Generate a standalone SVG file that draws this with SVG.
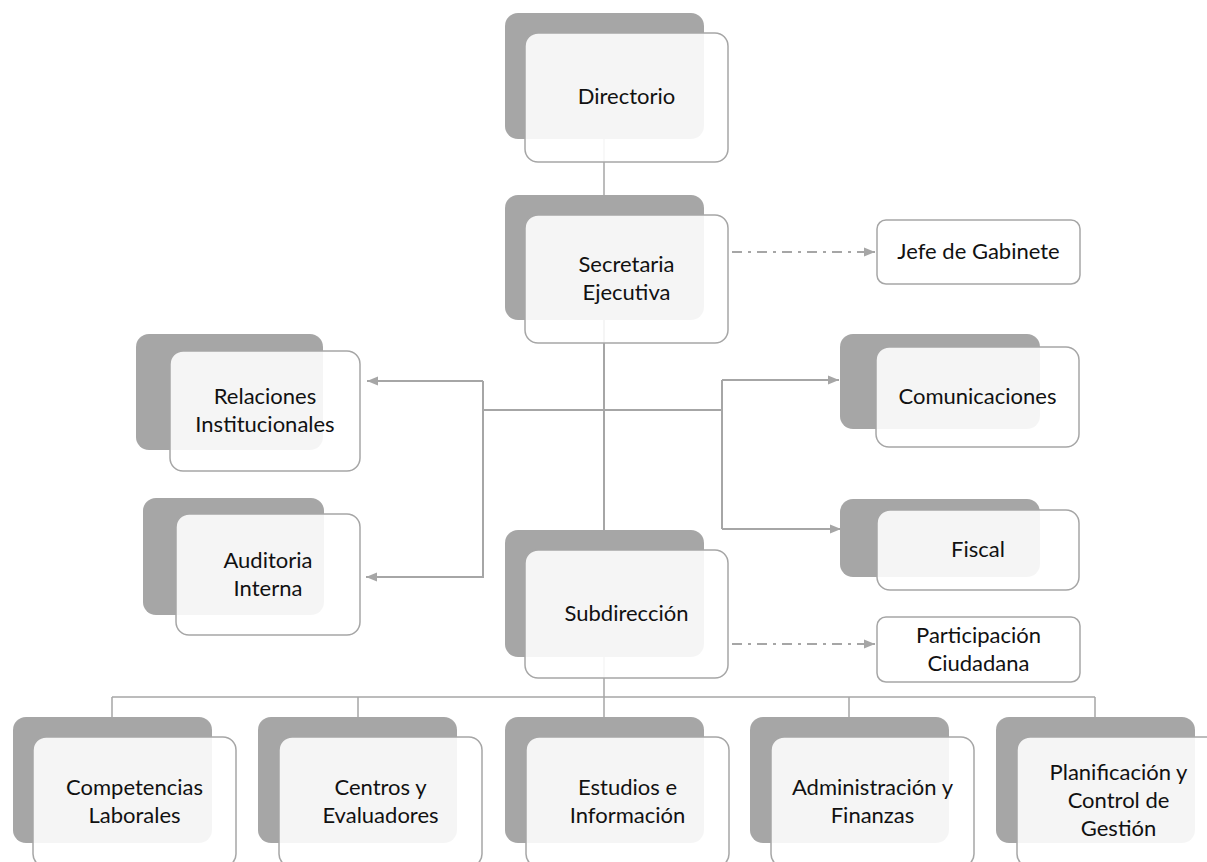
<svg xmlns="http://www.w3.org/2000/svg" width="1207" height="862" viewBox="0 0 1207 862">
  <style>
    .back { fill: #a6a6a6; }
    .card { fill: #ffffff; fill-opacity: 0.89; stroke: #a6a6a6; stroke-width: 1.5; }
    .box { fill: #ffffff; stroke: #a6a6a6; stroke-width: 1.5; }
    .lbl { font-family: Lato, "Open Sans", "Liberation Sans", sans-serif; font-size: 22px; fill: #111111; text-anchor: middle; }
    .ln { stroke: #a6a6a6; stroke-width: 2; fill: none; }
    .thin { stroke-width: 1.5; }
    .dd { stroke-dasharray: 10 6 3 6; }
  </style>
  <defs>
    <marker id="arrow" markerUnits="userSpaceOnUse" markerWidth="12" markerHeight="10" refX="11" refY="5" orient="auto">
      <path d="M0,0.5 L11,5 L0,9.5 z" fill="#a6a6a6"/>
    </marker>
  </defs>

  <!-- connectors -->
  <g id="connectors">
    <path class="ln thin" d="M604,139 V195"/>
    <path class="ln" d="M604,320 V530"/>
    <path class="ln" d="M483,381 H367" marker-end="url(#arrow)"/>
    <path class="ln" d="M483,381 V577 H366" marker-end="url(#arrow)"/>
    <path class="ln" d="M483,410 H722"/>
    <path class="ln" d="M722,380 V529"/>
    <path class="ln" d="M722,380 H839" marker-end="url(#arrow)"/>
    <path class="ln" d="M722,529 H841" marker-end="url(#arrow)"/>
    <path class="ln dd" d="M732,252 H875" marker-end="url(#arrow)"/>
    <path class="ln dd" d="M732,644 H875" marker-end="url(#arrow)"/>
    <path class="ln thin" d="M604,657 V697"/>
    <path class="ln thin" d="M112,697 H1095"/>
    <path class="ln thin" d="M112,697 V717 M358,697 V717 M849,697 V717 M1095,697 V717 M604,697 V717"/>
  </g>

  <!-- top chain -->
  <g id="directorio">
    <rect class="back" x="505" y="13" width="199" height="126" rx="13"/>
    <rect class="card" x="525" y="33" width="203" height="129" rx="13"/>
    <text class="lbl" x="626.5" y="104">Directorio</text>
  </g>
  <g id="secretaria">
    <rect class="back" x="505" y="195" width="199" height="125" rx="13"/>
    <rect class="card" x="525" y="215" width="203" height="128" rx="13"/>
    <text class="lbl" x="626.5" y="272">Secretaria</text>
    <text class="lbl" x="626.5" y="300">Ejecutiva</text>
  </g>
  <g id="jefe-gabinete">
    <rect class="box" x="877" y="220" width="203" height="64" rx="9"/>
    <text class="lbl" x="978.5" y="259">Jefe de Gabinete</text>
  </g>

  <!-- staff units -->
  <g id="relaciones">
    <rect class="back" x="136" y="334" width="187" height="116" rx="13"/>
    <rect class="card" x="170" y="351" width="190" height="120" rx="13"/>
    <text class="lbl" x="265" y="404">Relaciones</text>
    <text class="lbl" x="265" y="432">Institucionales</text>
  </g>
  <g id="auditoria">
    <rect class="back" x="143" y="498" width="181" height="117" rx="13"/>
    <rect class="card" x="176" y="514" width="184" height="121" rx="13"/>
    <text class="lbl" x="268" y="568">Auditoria</text>
    <text class="lbl" x="268" y="596">Interna</text>
  </g>
  <g id="comunicaciones">
    <rect class="back" x="840" y="334" width="200" height="95" rx="13"/>
    <rect class="card" x="876" y="347" width="203" height="100" rx="13"/>
    <text class="lbl" x="977.5" y="404">Comunicaciones</text>
  </g>
  <g id="fiscal">
    <rect class="back" x="840" y="499" width="200" height="78" rx="13"/>
    <rect class="card" x="877" y="510" width="202" height="80" rx="13"/>
    <text class="lbl" x="978" y="557">Fiscal</text>
  </g>

  <!-- second level -->
  <g id="subdireccion">
    <rect class="back" x="505" y="530" width="199" height="127" rx="13"/>
    <rect class="card" x="525" y="550" width="203" height="128" rx="13"/>
    <text class="lbl" x="626.5" y="621">Subdirección</text>
  </g>
  <g id="participacion">
    <rect class="box" x="877" y="617" width="203" height="65" rx="9"/>
    <text class="lbl" x="978.5" y="643">Participación</text>
    <text class="lbl" x="978.5" y="671">Ciudadana</text>
  </g>

  <!-- departments -->
  <g id="competencias">
    <rect class="back" x="13" y="717" width="199" height="126" rx="13"/>
    <rect class="card" x="33" y="737" width="203" height="130" rx="13"/>
    <text class="lbl" x="134.5" y="795">Competencias</text>
    <text class="lbl" x="134.5" y="823">Laborales</text>
  </g>
  <g id="centros">
    <rect class="back" x="258" y="717" width="199" height="126" rx="13"/>
    <rect class="card" x="279" y="737" width="203" height="130" rx="13"/>
    <text class="lbl" x="380.5" y="795">Centros y</text>
    <text class="lbl" x="380.5" y="823">Evaluadores</text>
  </g>
  <g id="estudios">
    <rect class="back" x="505" y="717" width="199" height="126" rx="13"/>
    <rect class="card" x="526" y="737" width="203" height="130" rx="13"/>
    <text class="lbl" x="627.5" y="795">Estudios e</text>
    <text class="lbl" x="627.5" y="823">Información</text>
  </g>
  <g id="administracion">
    <rect class="back" x="750" y="717" width="199" height="126" rx="13"/>
    <rect class="card" x="771" y="737" width="203" height="130" rx="13"/>
    <text class="lbl" x="872.5" y="795">Administración y</text>
    <text class="lbl" x="872.5" y="823">Finanzas</text>
  </g>
  <g id="planificacion">
    <rect class="back" x="996" y="717" width="199" height="126" rx="13"/>
    <rect class="card" x="1017" y="737" width="203" height="130" rx="13"/>
    <text class="lbl" x="1118.5" y="780">Planificación y</text>
    <text class="lbl" x="1118.5" y="808">Control de</text>
    <text class="lbl" x="1118.5" y="836">Gestión</text>
  </g>
</svg>
